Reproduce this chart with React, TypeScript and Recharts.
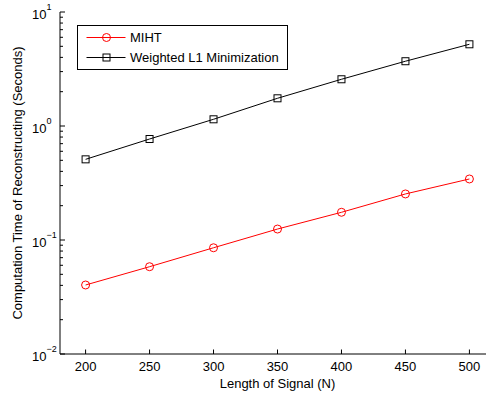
import React from 'react';
import { LineChart, Line, XAxis, YAxis, Legend } from 'recharts';

const signalLengths = [200, 250, 300, 350, 400, 450, 500];
const mihtTimes = [0.0403, 0.0583, 0.0855, 0.1248, 0.175, 0.2535, 0.343];
const weightedL1Times = [0.51, 0.769, 1.145, 1.75, 2.57, 3.7, 5.21];
const xTicks = [200, 250, 300, 350, 400, 450, 500];
const yMajorTicks = [0.01, 0.1, 1, 10];
const yMajorExponents = ['-2', '-1', '0', '1'];
const yMinorTicks = [
  0.02, 0.03, 0.04, 0.05, 0.06, 0.07, 0.08, 0.09,
  0.2, 0.3, 0.4, 0.5, 0.6, 0.7, 0.8, 0.9,
  2, 3, 4, 5, 6, 7, 8, 9,
];
const seriesNames = ['MIHT', 'Weighted L1 Minimization'];
const xLabel = 'Length of Signal (N)';
const yLabel = 'Computation Time of Reconstructing (Seconds)';

const data = signalLengths.map((n, i) => ({
  n,
  miht: mihtTimes[i],
  wl1: weightedL1Times[i],
}));

const FONT = '"Liberation Sans", Arial, Helvetica, sans-serif';

const CircleDot = (props: any) => {
  const { cx, cy } = props;
  if (cx == null || cy == null) return null;
  return <circle cx={cx} cy={cy} r={4} fill="none" stroke="#ff0000" strokeWidth={1} />;
};
const SquareDot = (props: any) => {
  const { cx, cy } = props;
  if (cx == null || cy == null) return null;
  return <rect x={cx - 3.5} y={cy - 3.5} width={7} height={7} fill="none" stroke="#000" strokeWidth={1} />;
};

const BottomTick = (props: any) => {
  const { x, y, payload } = props;
  return (
    <g>
      <line x1={x} y1={y} x2={x} y2={y - 4.5} stroke="#000" strokeWidth={1} />
      <text x={x} y={y + 17} textAnchor="middle" fontSize={13} fontFamily={FONT} fill="#000">
        {payload.value}
      </text>
    </g>
  );
};
const TopTick = (props: any) => {
  const { x, y } = props;
  return <line x1={x} y1={y} x2={x} y2={y + 4.5} stroke="#000" strokeWidth={1} />;
};
const LeftTick = (props: any) => {
  const { x, y, payload } = props;
  const idx = yMajorTicks.indexOf(payload.value);
  const isMajor = idx >= 0;
  return (
    <g>
      <line x1={x} y1={y} x2={x + (isMajor ? 5 : 3)} y2={y} stroke="#000" strokeWidth={1} />
      {isMajor && (
        <text x={32} y={y + 6.5} fontSize={13} fontFamily={FONT} fill="#000" textAnchor="start">
          10
          <tspan fontSize={9} dy={-8.5}>{yMajorExponents[idx].replace('-', '\u2212')}</tspan>
        </text>
      )}
    </g>
  );
};

const LegendBox = () => (
  <svg width={212} height={46} style={{ display: 'block' }}>
    <rect x={0.5} y={0.5} width={210} height={44} fill="#fff" stroke="#000" strokeWidth={1} />
    <line x1={9.5} y1={12.5} x2={48.5} y2={12.5} stroke="#ff0000" strokeWidth={1} />
    <circle cx={29.5} cy={12.5} r={4} fill="none" stroke="#ff0000" strokeWidth={1} />
    <text x={53} y={17} fontSize={13} fontFamily={FONT} fill="#000">{seriesNames[0]}</text>
    <line x1={9.5} y1={32.5} x2={48.5} y2={32.5} stroke="#000" strokeWidth={1} />
    <rect x={26} y={29} width={7} height={7} fill="none" stroke="#000" strokeWidth={1} />
    <text x={53} y={37} fontSize={13} fontFamily={FONT} fill="#000">{seriesNames[1]}</text>
  </svg>
);

export default function App() {
  return (
    <div style={{ position: 'absolute', left: 0, top: 0, width: 486, height: 396, overflow: 'hidden', background: '#fff' }}>
      <LineChart width={497} height={396} data={data} margin={{ top: 12, right: 2, bottom: 0, left: 0 }}>
        <XAxis
          dataKey="n"
          type="number"
          domain={[180, 520]}
          ticks={xTicks}
          interval={0}
          tickSize={0}
          tickMargin={0}
          height={42}
          stroke="#000"
          tickLine={false}
          tick={<BottomTick />}
          allowDataOverflow
          label={{ value: xLabel, position: 'insideBottom', offset: 8, fontSize: 13, fontFamily: FONT, fill: '#000' } as any}
        />
        <XAxis
          xAxisId="top"
          dataKey="n"
          orientation="top"
          type="number"
          domain={[180, 520]}
          ticks={xTicks}
          interval={0}
          tickSize={0}
          tickMargin={0}
          height={0}
          stroke="#000"
          tickLine={false}
          tick={<TopTick />}
          allowDataOverflow
        />
        <YAxis
          scale="log"
          type="number"
          domain={[0.01, 10]}
          ticks={[...yMajorTicks, ...yMinorTicks]}
          interval={0}
          tickSize={0}
          tickMargin={0}
          width={60}
          stroke="#000"
          tickLine={false}
          tick={<LeftTick />}
          allowDataOverflow
          label={(props: any) => {
            const vb = props.viewBox || { x: 0, y: 12, width: 60, height: 342 };
            const cy = vb.y + vb.height / 2;
            return (
              <text x={22} y={cy} transform={`rotate(-90, 22, ${cy})`} textAnchor="middle" fontSize={13} fontFamily={FONT} fill="#000">
                {yLabel}
              </text>
            );
          }}
        />
        <Legend
          layout="vertical"
          align="center"
          verticalAlign="middle"
          wrapperStyle={{ position: 'absolute', left: 77, top: 25, width: 212, height: 46 }}
          content={() => <LegendBox />}
        />
        <Line
          type="linear"
          dataKey="miht"
          name={seriesNames[0]}
          stroke="#ff0000"
          strokeWidth={1}
          dot={<CircleDot />}
          activeDot={false}
          isAnimationActive={false}
        />
        <Line
          type="linear"
          dataKey="wl1"
          name={seriesNames[1]}
          stroke="#000"
          strokeWidth={1}
          dot={<SquareDot />}
          activeDot={false}
          isAnimationActive={false}
        />
      </LineChart>
    </div>
  );
}
